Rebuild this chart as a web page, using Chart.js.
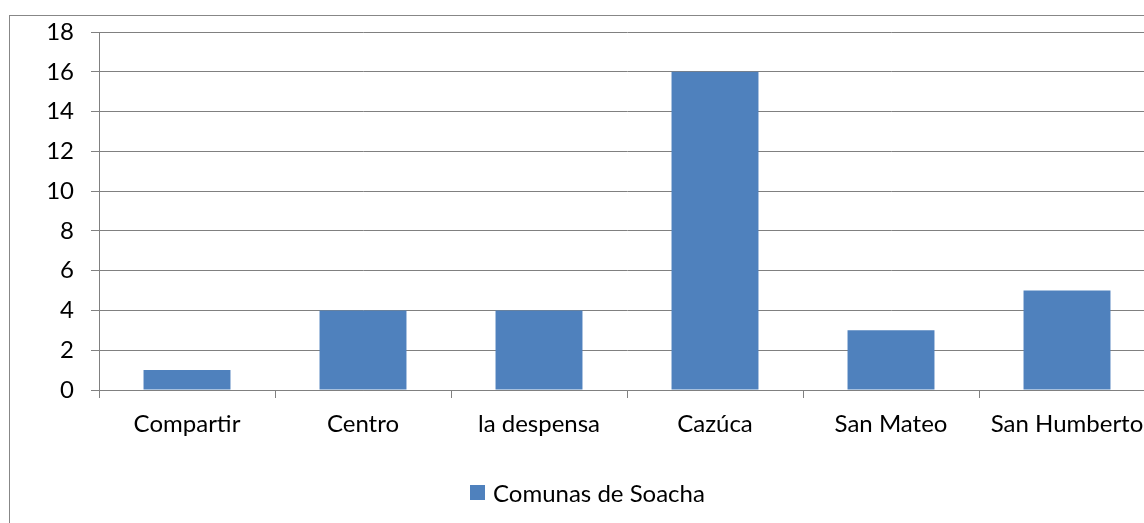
<!DOCTYPE html>
<html>
<head>
<meta charset="utf-8">
<script src="https://cdn.jsdelivr.net/npm/chart.js@4.4.1/dist/chart.umd.min.js"></script>
<style>
  html, body { margin: 0; padding: 0; background: #fff; overflow: hidden; width: 1144px; height: 523px; }
  #frame { position: absolute; left: 9px; top: 15px; width: 1200px; height: 600px;
           border-left: 1px solid #878787; border-top: 1px solid #878787; }
  #wrap { position: absolute; left: 10px; top: 16px; width: 1150px; height: 507px; }
  #legend { position: absolute; left: 470px; top: 478px; display: flex; align-items: center;
            font-family: Lato, "Open Sans", sans-serif; font-size: 24px; color: #000; white-space: nowrap; }
  #legend .box { width: 15px; height: 15px; background: #4F81BD; margin-right: 8px; }
</style>
</head>
<body>
<div id="frame"></div>
<div id="wrap"><canvas id="chart"></canvas></div>
<div id="legend"><span class="box"></span><span id="legendText"></span></div>
<script>
const CATEGORIES = ["Compartir", "Centro", "la despensa", "Cazúca", "San Mateo", "San Humberto"];
const VALUES = [1, 4, 4, 16, 3, 5];
const SERIES_NAME = "Comunas de Soacha";
const Y_MIN = 0, Y_MAX = 18, Y_STEP = 2;

const GRID = "#808080";
const BAR = "#4F81BD";
const FONT = { family: "Lato, 'Open Sans', sans-serif", size: 24 };

document.getElementById("legendText").textContent = SERIES_NAME;

const ctx = document.getElementById("chart").getContext("2d");
new Chart(ctx, {
  type: "bar",
  data: {
    labels: CATEGORIES,
    datasets: [{ label: SERIES_NAME, data: VALUES, backgroundColor: BAR, borderWidth: 0,
                 barPercentage: 1, categoryPercentage: 0.494 }]
  },
  options: {
    responsive: true, maintainAspectRatio: false, animation: false,
    layout: { padding: { top: 16, right: 5, left: 0, bottom: 73 } },
    plugins: { legend: { display: false }, tooltip: { enabled: false } },
    scales: {
      x: {
        grid: { offset: true, drawOnChartArea: false, color: GRID, tickLength: 8 },
        border: { color: GRID },
        ticks: { color: "#000", font: FONT, padding: 12, maxRotation: 0, autoSkip: false },
        afterFit: s => { s.height = 60; }
      },
      y: {
        min: Y_MIN, max: Y_MAX,
        grid: { color: GRID, tickLength: 8 },
        border: { color: GRID },
        ticks: { stepSize: Y_STEP, color: "#000", font: FONT, padding: 17 },
        // tick padding otherwise pushes the plot top down
        afterFit: s => { s.width = 89; s.paddingTop = 0; s.paddingBottom = 0; }
      }
    }
  }
});
</script>
</body>
</html>
